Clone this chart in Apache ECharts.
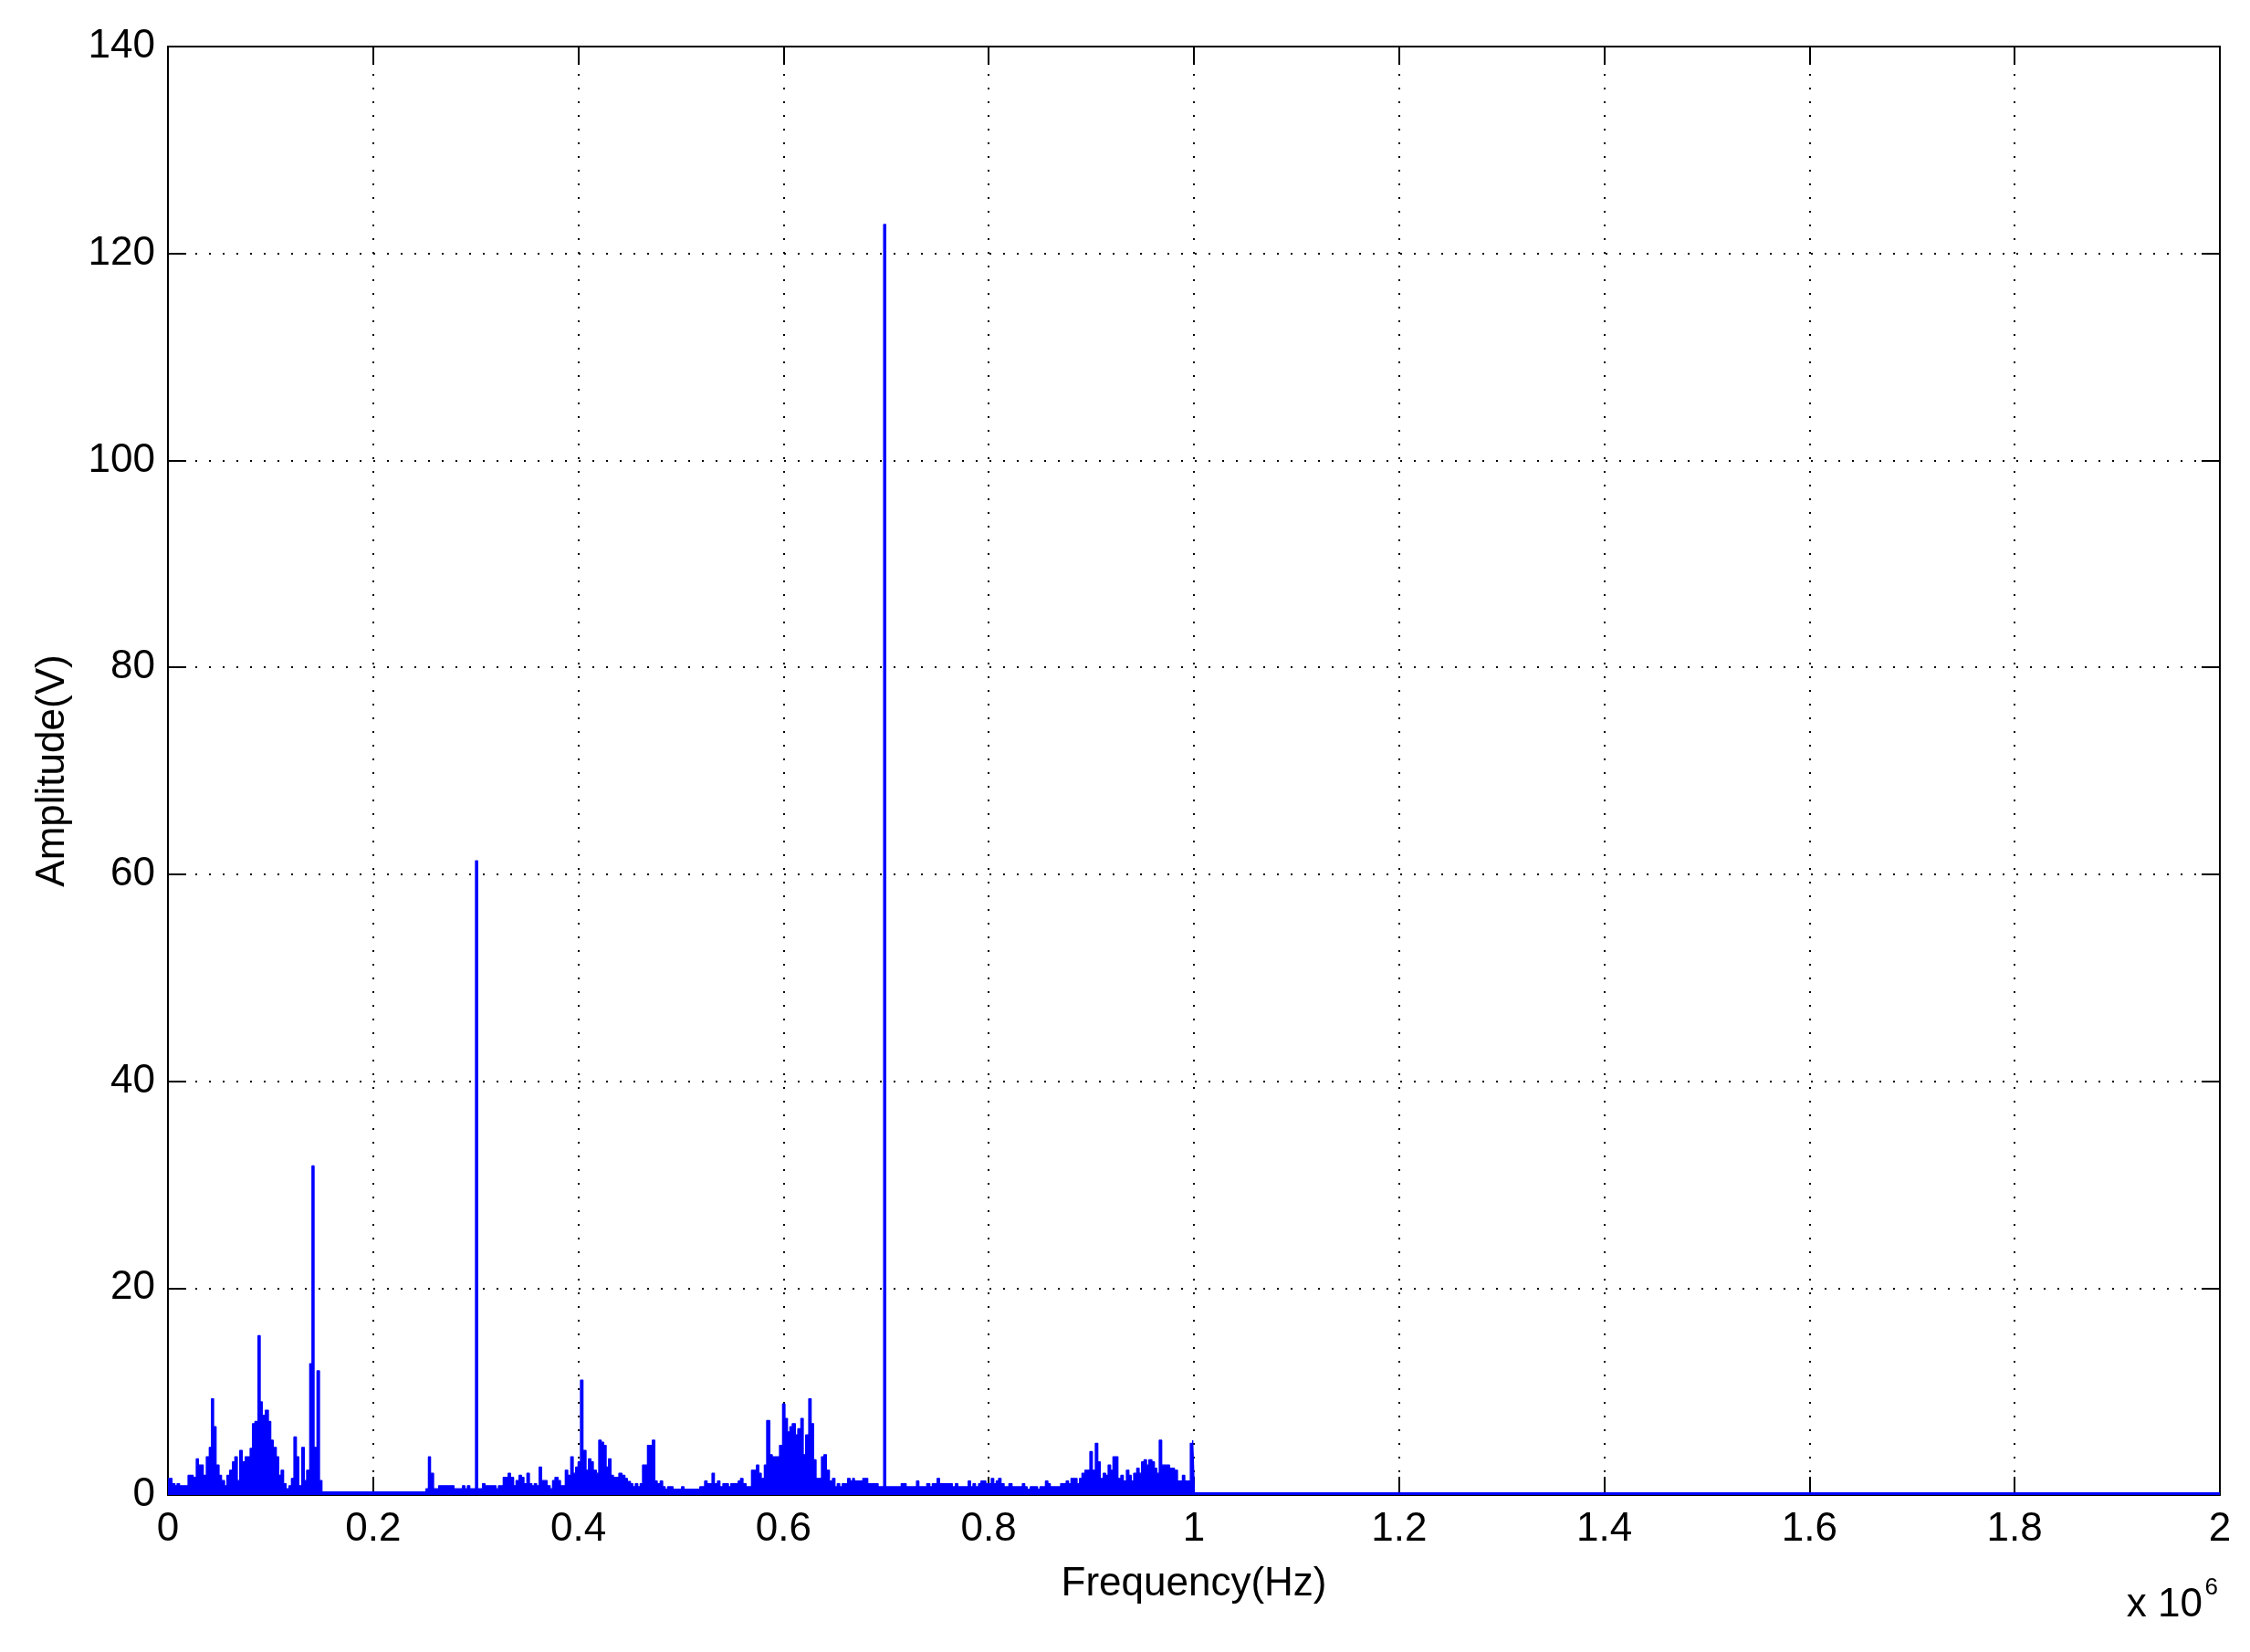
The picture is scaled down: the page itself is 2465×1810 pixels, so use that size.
<!DOCTYPE html>
<html>
<head>
<meta charset="utf-8">
<script src="https://cdn.jsdelivr.net/npm/echarts@6/dist/echarts.min.js"></script>
<style>
  html, body { margin: 0; padding: 0; background: #fff; }
  #chart { width: 2465px; height: 1810px; }
</style>
</head>
<body>
<div id="chart"></div>
<script>
// Segment start frequencies (kHz) and amplitudes (V) of the spectrum
const freqKHz = [
  0, 3.9, 6.8, 8.9, 11.3, 19.6, 24.6, 27.6, 29.7, 34.4, 37.4, 40.3, 42.4, 44.5, 46.9, 49.8,
  52.2, 55.2, 57.5, 60.2, 62.9, 65.2, 67.6, 70.0, 72.4, 75.3, 80.1, 82.4, 84.8, 87.8, 89.9,
  91.9, 94.9, 97.9, 100.2, 102.6, 105.6, 107.9, 110.3, 112.7, 115.1, 118.0, 120.4, 122.8,
  125.2, 127.5, 130.5, 132.9, 135.2, 138.2, 140.4, 142.4, 145.3, 147.7, 150.1,
  251.5, 253.9, 255.9, 258.9, 263.9, 278.8, 287.1, 289.4, 291.8, 294.2, 299.8, 301.8,
  306.6, 309.0, 319.7, 322.1, 326.8, 331.6, 333.9, 336.9, 339.3, 342.2, 344.6, 347.0,
  349.9, 352.3, 354.7, 357.1, 359.4, 361.8, 364.2, 369.5, 372.5, 374.9, 377.2, 380.2,
  382.6, 387.3, 389.7, 392.6, 395.0, 397.4, 399.8, 402.1, 404.5, 407.5, 409.9, 412.2,
  414.6, 417.6, 419.9, 422.3, 424.7, 427.1, 429.4, 431.8, 434.2, 439.5, 442.5, 445.4,
  447.8, 450.8, 453.1, 455.5, 457.9, 460.3, 462.6, 467.4, 472.1, 474.5, 476.9, 479.8,
  482.2, 484.6, 487.0, 492.3, 500.6, 503.0, 518.4, 523.1, 525.5, 530.3, 532.6, 535.6,
  538.0, 540.9, 546.3, 548.6, 555.8, 558.1, 560.5, 563.5, 568.8, 573.6, 575.9, 578.3,
  581.3, 583.6, 586.6, 589.0, 596.1, 599.1, 601.4, 603.8, 606.2, 608.5, 611.5, 613.9,
  616.9, 619.2, 621.6, 624.6, 626.9, 629.3, 631.7, 637.0, 639.4, 641.8, 644.7, 647.7,
  650.1, 652.4, 654.8, 657.2, 662.5, 664.9, 667.3, 669.1, 677.3, 682.1, 692.2, 697.6,
  699.6, 714.7, 719.5, 729.6, 731.9, 739.6, 742.6, 745.0, 749.7, 752.1, 764.5, 767.5,
  769.9, 780.0, 782.3, 784.7, 787.1, 790.1, 792.4, 797.2, 802.5, 804.9, 807.3, 809.6,
  812.0, 815.0, 819.7, 822.7, 832.8, 835.1, 837.5, 840.5, 847.6, 850.0, 855.3, 857.7,
  860.0, 870.1, 875.5, 877.8, 880.2, 886.1, 888.5, 890.9, 893.8, 898.6, 901.0, 903.9,
  906.3, 908.7, 911.6, 914.0, 916.4, 918.8, 921.1, 925.9, 928.8, 931.2, 934.2, 936.6,
  938.9, 941.3, 944.3, 946.6, 949.0, 951.4, 953.8, 956.1, 959.1, 961.5, 963.8, 966.2,
  968.6, 976.3, 981.0, 984.0, 988.8, 991.1, 996.5, 998.8, 1000.5, 2000
];
const ampV = [
  1.6, 1.1, 0.9, 1.1, 0.9, 1.9, 1.7, 3.5, 2.9, 1.9, 3.7, 4.6, 9.3, 6.6, 2.9, 1.9,
  1.4, 0.9, 1.9, 2.4, 3.2, 3.7, 1.4, 4.3, 3.2, 3.7, 4.5, 6.9, 7.1, 15.4, 9.0,
  7.7, 8.2, 7.1, 5.3, 4.6, 3.7, 1.9, 2.4, 1.1, 0.6, 0.9, 1.6, 5.6,
  3.7, 0.9, 4.6, 1.4, 2.4, 12.7, 31.8, 4.6, 12.0, 1.4, 0.3,
  0.6, 3.7, 2.1, 0.6, 0.9, 0.6, 0.9, 0.6, 0.9, 0.6, 61.3, 0.6,
  1.1, 0.9, 0.6, 0.9, 1.7, 2.1, 1.7, 0.9, 1.4, 1.9, 1.7, 1.1,
  2.1, 1.1, 0.9, 1.1, 0.9, 2.7, 1.4, 0.9, 0.6, 1.4, 1.7, 1.4,
  0.9, 2.4, 1.9, 3.7, 2.1, 2.7, 3.2, 11.1, 4.3, 2.4, 3.5, 3.2,
  2.4, 2.1, 5.3, 5.1, 4.8, 2.7, 3.5, 1.9, 1.7, 2.1, 1.9, 1.6,
  1.3, 1.1, 0.8, 1.1, 0.8, 1.1, 2.9, 4.8, 5.3, 1.35, 1.1, 1.35,
  0.8, 0.55, 0.8, 0.55, 0.8, 0.55, 0.8, 1.35, 1.1, 2.1, 1.1, 1.35,
  0.8, 1.1, 0.8, 1.1, 1.35, 1.6, 1.1, 0.8, 2.4, 2.9, 2.1, 1.6,
  2.9, 7.2, 3.9, 3.7, 4.8, 8.8, 7.4, 6.1, 6.6, 6.9, 5.8, 6.4,
  7.4, 3.9, 5.8, 9.3, 6.9, 3.4, 1.6, 3.7, 3.9, 2.4, 1.35, 1.6,
  0.8, 1.1, 0.8, 1.1, 1.6, 1.35, 1.6, 1.35, 1.6, 1.1, 0.8, 122.8,
  0.8, 1.1, 0.8, 1.35, 0.8, 1.1, 0.8, 1.1, 1.6, 1.1, 0.8, 1.1,
  0.8, 1.35, 0.8, 1.1, 0.8, 1.1, 1.35, 1.1, 1.6, 1.1, 1.35, 1.6,
  1.1, 0.8, 1.1, 0.8, 1.1, 0.8, 0.55, 0.8, 0.55, 0.8, 1.35, 1.1,
  0.8, 1.1, 1.35, 1.1, 1.6, 1.1, 1.6, 2.1, 2.4, 4.2, 2.4, 5.0,
  3.2, 1.6, 2.1, 1.9, 2.9, 2.4, 3.7, 1.6, 1.9, 1.35, 2.4, 1.9,
  1.35, 2.1, 2.6, 2.1, 3.2, 3.4, 2.9, 3.4, 3.2, 2.6, 2.1, 5.3,
  2.9, 2.6, 2.4, 1.35, 1.9, 1.35, 5.0, 5.3, 0.2, 0.2
];
const xTicks = [0, 0.2, 0.4, 0.6, 0.8, 1, 1.2, 1.4, 1.6, 1.8, 2]; // x 10^6 Hz
const yTicks = [0, 20, 40, 60, 80, 100, 120, 140];

const data = freqKHz.map((f, i) => [f * 1000, ampV[i]]);

const FONT = '"Liberation Sans", Arial, sans-serif';
const BLACK = '#000';

const chart = echarts.init(document.getElementById('chart'), null, { renderer: 'canvas' });

const commonTick = { show: true, inside: true, length: 20, lineStyle: { color: BLACK, width: 2 } };
const commonLine = { show: true, onZero: false, lineStyle: { color: BLACK, width: 2 } };
const gridDots = { show: true, lineStyle: { color: BLACK, width: 2, type: [2, 13] } };

chart.setOption({
  animation: false,
  backgroundColor: '#fff',
  grid: { left: 184, right: 33, top: 51, bottom: 172, containLabel: false },
  xAxis: [
    {
      type: 'value', position: 'bottom',
      min: xTicks[0] * 1e6, max: xTicks[xTicks.length - 1] * 1e6, interval: 0.2e6,
      axisLine: commonLine, axisTick: commonTick,
      splitLine: gridDots,
      axisLabel: {
        color: BLACK, fontSize: 44, fontFamily: FONT, margin: 16,
        formatter: v => String(+(v / 1e6).toFixed(1))
      },
      name: 'Frequency(Hz)', nameLocation: 'middle', nameGap: 76,
      nameTextStyle: { color: BLACK, fontSize: 44, fontFamily: FONT }
    },
    {
      type: 'value', position: 'top',
      min: xTicks[0] * 1e6, max: xTicks[xTicks.length - 1] * 1e6, interval: 0.2e6,
      axisLine: commonLine, axisTick: commonTick,
      splitLine: { show: false }, axisLabel: { show: false }
    }
  ],
  yAxis: [
    {
      type: 'value', position: 'left',
      min: yTicks[0], max: yTicks[yTicks.length - 1], interval: 20,
      axisLine: commonLine, axisTick: commonTick,
      splitLine: gridDots,
      axisLabel: { color: BLACK, fontSize: 44, fontFamily: FONT, margin: 14 },
      name: 'Amplitude(V)', nameLocation: 'middle', nameGap: 104, nameRotate: 90,
      nameTextStyle: { color: BLACK, fontSize: 44, fontFamily: FONT }
    },
    {
      type: 'value', position: 'right',
      min: yTicks[0], max: yTicks[yTicks.length - 1], interval: 20,
      axisLine: commonLine, axisTick: commonTick,
      splitLine: { show: false }, axisLabel: { show: false }
    }
  ],
  series: [
    {
      type: 'line',
      xAxisIndex: 0, yAxisIndex: 0,
      step: 'end',
      data: data,
      showSymbol: false, symbol: 'none',
      lineStyle: { color: '#0000ff', width: 1.3 },
      areaStyle: { color: '#0000ff', opacity: 1 },
      z: 1
    }
  ],
  graphic: [
    {
      type: 'text', right: 52, top: 1737,
      style: { text: 'x 10', fontSize: 44, fontFamily: FONT, fill: BLACK }
    },
    {
      type: 'text', right: 35, top: 1727,
      style: { text: '6', fontSize: 26, fontFamily: FONT, fill: BLACK }
    }
  ]
});
</script>
</body>
</html>
